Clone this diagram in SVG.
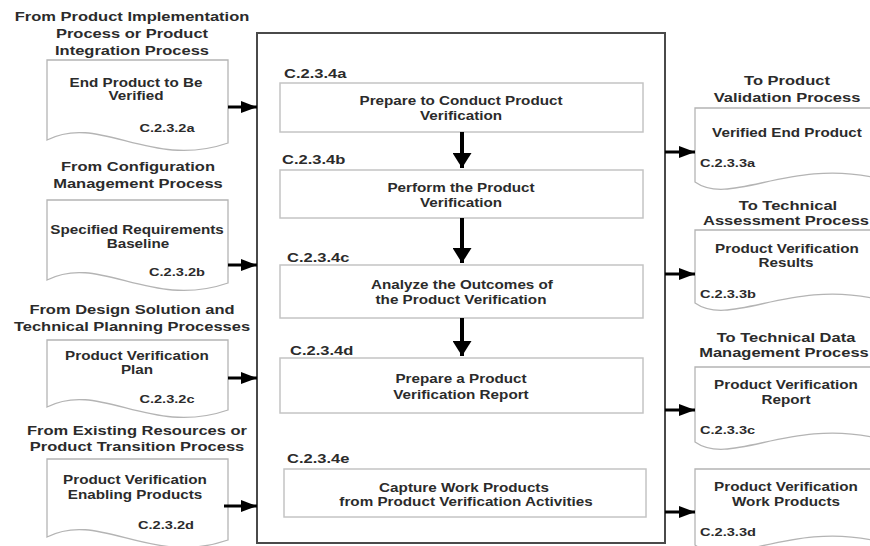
<svg xmlns="http://www.w3.org/2000/svg" width="870" height="546" viewBox="0 0 870 546">
<defs>
<style>
text{font-family:"Liberation Sans",Arial,sans-serif;font-weight:bold;fill:#2b2b2b;}
.h{font-size:13px;text-anchor:middle;}
.b{font-size:12px;text-anchor:middle;}
.c{font-size:11.5px;text-anchor:middle;}
.cs{font-size:11.5px;text-anchor:start;}
.l{font-size:13px;text-anchor:start;}
.doc{fill:#fff;stroke:#b4b4b4;stroke-width:1.3;}
.proc{fill:#fff;stroke:#c4c4c4;stroke-width:1.5;}
.main{fill:#fff;stroke:#4a4a4a;stroke-width:2;}
.ah{stroke:#000;stroke-width:3;fill:none;}
.av{stroke:#000;stroke-width:4;fill:none;}
</style>
<marker id="arrH" markerUnits="userSpaceOnUse" markerWidth="16" markerHeight="12" refX="16" refY="6" orient="auto"><path d="M0,0 L16,6 L0,12 Z" fill="#000"/></marker>
<marker id="arrV" markerUnits="userSpaceOnUse" markerWidth="15" markerHeight="19" refX="15" refY="9.5" orient="auto"><path d="M0,0 L15,9.5 L0,19 Z" fill="#000"/></marker>
</defs>
<rect width="870" height="546" fill="#fff"/>

<g id="main-process">
<rect class="main" x="257" y="33" width="408" height="510"/>
</g>

<!-- Inputs -->
<g id="in-a">
<text class="h" transform="translate(132,21) scale(1.27,1)">From Product Implementation</text>
<text class="h" transform="translate(132,38) scale(1.27,1)">Process or Product</text>
<text class="h" transform="translate(132,55) scale(1.27,1)">Integration Process</text>
<path class="doc" d="M47,60 H228 V143 C150,170 100,113 47,140 Z"/>
<text class="b" transform="translate(136,86.5) scale(1.27,1)">End Product to Be</text>
<text class="b" transform="translate(136,99.5) scale(1.27,1)">Verified</text>
<text class="c" transform="translate(167,131.5) scale(1.27,1)">C.2.3.2a</text>
</g>
<g id="in-b">
<text class="h" transform="translate(138,171) scale(1.27,1)">From Configuration</text>
<text class="h" transform="translate(138,188) scale(1.27,1)">Management Process</text>
<path class="doc" d="M47,200 H228 V283 C150,310 100,253 47,280 Z"/>
<text class="b" transform="translate(137,233.5) scale(1.27,1)">Specified Requirements</text>
<text class="b" transform="translate(138,247.5) scale(1.27,1)">Baseline</text>
<text class="c" transform="translate(177,276) scale(1.27,1)">C.2.3.2b</text>
</g>
<g id="in-c">
<text class="h" transform="translate(132,313.5) scale(1.27,1)">From Design Solution and</text>
<text class="h" transform="translate(132,330.5) scale(1.27,1)">Technical Planning Processes</text>
<path class="doc" d="M47,340 H228 V410 C150,437 100,380 47,407 Z"/>
<text class="b" transform="translate(137,359.5) scale(1.27,1)">Product Verification</text>
<text class="b" transform="translate(137,373.5) scale(1.27,1)">Plan</text>
<text class="c" transform="translate(167,402.5) scale(1.27,1)">C.2.3.2c</text>
</g>
<g id="in-d">
<text class="h" transform="translate(137,434.5) scale(1.27,1)">From Existing Resources or</text>
<text class="h" transform="translate(137,450.5) scale(1.27,1)">Product Transition Process</text>
<path class="doc" d="M47,459 H228 V540 C150,567 100,510 47,537 Z"/>
<text class="b" transform="translate(135,483.5) scale(1.27,1)">Product Verification</text>
<text class="b" transform="translate(135,498.5) scale(1.27,1)">Enabling Products</text>
<text class="c" transform="translate(166,528.5) scale(1.27,1)">C.2.3.2d</text>
</g>

<!-- Activities -->
<g id="act-a">
<text class="l" transform="translate(284,78) scale(1.27,1)">C.2.3.4a</text>
<rect class="proc" x="280" y="83" width="363" height="49"/>
<text class="b" transform="translate(461,104.5) scale(1.27,1)">Prepare to Conduct Product</text>
<text class="b" transform="translate(461,119.5) scale(1.27,1)">Verification</text>
</g>
<g id="act-b">
<text class="l" transform="translate(282,164) scale(1.27,1)">C.2.3.4b</text>
<rect class="proc" x="280" y="170" width="363" height="48"/>
<text class="b" transform="translate(461,191.5) scale(1.27,1)">Perform the Product</text>
<text class="b" transform="translate(461,206.5) scale(1.27,1)">Verification</text>
</g>
<g id="act-c">
<text class="l" transform="translate(287,262) scale(1.27,1)">C.2.3.4c</text>
<rect class="proc" x="280" y="265" width="363" height="53"/>
<text class="b" transform="translate(462,288.5) scale(1.27,1)">Analyze the Outcomes of</text>
<text class="b" transform="translate(461,303.5) scale(1.27,1)">the Product Verification</text>
</g>
<g id="act-d">
<text class="l" transform="translate(290,355) scale(1.27,1)">C.2.3.4d</text>
<rect class="proc" x="280" y="358" width="363" height="55"/>
<text class="b" transform="translate(461,382.5) scale(1.27,1)">Prepare a Product</text>
<text class="b" transform="translate(461,398.5) scale(1.27,1)">Verification Report</text>
</g>
<g id="act-e">
<text class="l" transform="translate(287,463) scale(1.27,1)">C.2.3.4e</text>
<rect class="proc" x="284" y="469" width="362" height="48"/>
<text class="b" transform="translate(464,491.5) scale(1.27,1)">Capture Work Products</text>
<text class="b" transform="translate(466,505.5) scale(1.27,1)">from Product Verification Activities</text>
</g>

<!-- Outputs -->
<g id="out-a">
<text class="h" transform="translate(787,84.5) scale(1.27,1)">To Product</text>
<text class="h" transform="translate(787,101.5) scale(1.27,1)">Validation Process</text>
<path class="doc" d="M695,108 H876 V178 C790,158 730,207 695,182 Z"/>
<text class="b" transform="translate(787,137) scale(1.27,1)">Verified End Product</text>
<text class="cs" transform="translate(700,166.5) scale(1.27,1)">C.2.3.3a</text>
</g>
<g id="out-b">
<text class="h" transform="translate(788,209.5) scale(1.27,1)">To Technical</text>
<text class="h" transform="translate(786,225) scale(1.27,1)">Assessment Process</text>
<path class="doc" d="M695,230 H876 V299 C790,279 730,328 695,303 Z"/>
<text class="b" transform="translate(787,252.5) scale(1.27,1)">Product Verification</text>
<text class="b" transform="translate(786,266.5) scale(1.27,1)">Results</text>
<text class="cs" transform="translate(700,297.5) scale(1.27,1)">C.2.3.3b</text>
</g>
<g id="out-c">
<text class="h" transform="translate(786,341.5) scale(1.27,1)">To Technical Data</text>
<text class="h" transform="translate(784,357) scale(1.27,1)">Management Process</text>
<path class="doc" d="M695,367 H876 V438 C790,418 730,467 695,442 Z"/>
<text class="b" transform="translate(786,388.5) scale(1.27,1)">Product Verification</text>
<text class="b" transform="translate(786,403.5) scale(1.27,1)">Report</text>
<text class="cs" transform="translate(700,433.5) scale(1.27,1)">C.2.3.3c</text>
</g>
<g id="out-d">
<path class="doc" d="M695,469 H876 V541 C790,521 730,570 695,545 Z"/>
<text class="b" transform="translate(786,490.5) scale(1.27,1)">Product Verification</text>
<text class="b" transform="translate(786,505.5) scale(1.27,1)">Work Products</text>
<text class="cs" transform="translate(700,535.5) scale(1.27,1)">C.2.3.3d</text>
</g>

<g id="connectors">
<line class="ah" x1="228" y1="107" x2="257" y2="107" marker-end="url(#arrH)"/>
<line class="ah" x1="228" y1="265" x2="257" y2="265" marker-end="url(#arrH)"/>
<line class="ah" x1="228" y1="378" x2="257" y2="378" marker-end="url(#arrH)"/>
<line class="ah" x1="224" y1="506" x2="257" y2="506" marker-end="url(#arrH)"/>
<line class="av" x1="462" y1="132" x2="462" y2="168" marker-end="url(#arrV)"/>
<line class="av" x1="462" y1="218" x2="462" y2="263" marker-end="url(#arrV)"/>
<line class="av" x1="462" y1="318" x2="462" y2="356" marker-end="url(#arrV)"/>
<line class="ah" x1="665" y1="152" x2="695" y2="152" marker-end="url(#arrH)"/>
<line class="ah" x1="665" y1="274" x2="695" y2="274" marker-end="url(#arrH)"/>
<line class="ah" x1="665" y1="410" x2="695" y2="410" marker-end="url(#arrH)"/>
<line class="ah" x1="665" y1="512" x2="695" y2="512" marker-end="url(#arrH)"/>
</g>
</svg>
